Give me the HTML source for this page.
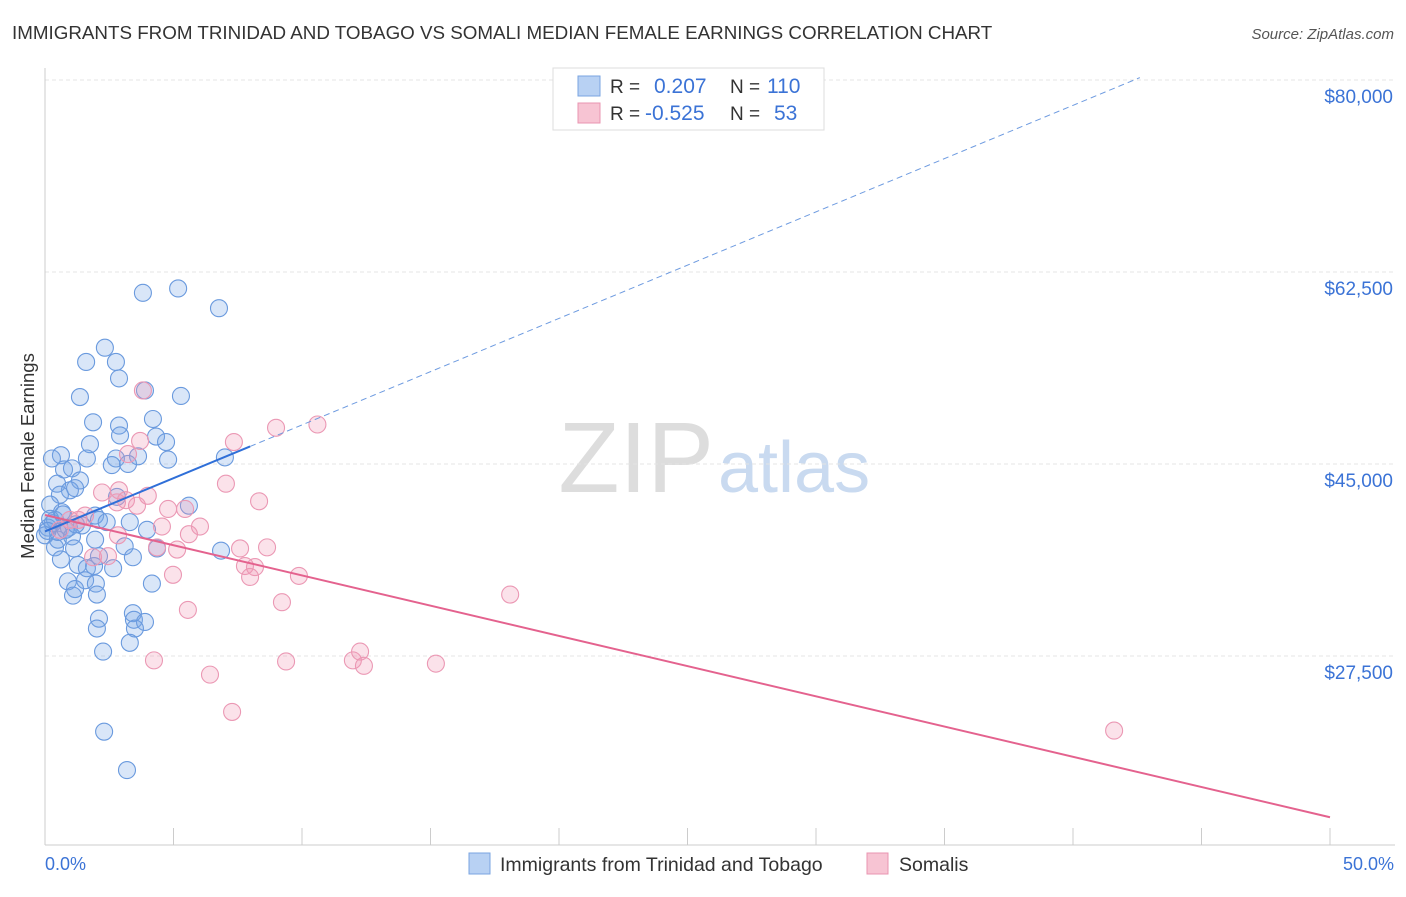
<!DOCTYPE html>
<html><head><meta charset="utf-8"><style>
body{margin:0;background:#fff;font-family:"Liberation Sans",sans-serif;}
svg text{font-family:"Liberation Sans",sans-serif;}
</style></head><body>
<svg id="chart" width="1406" height="892">
<text x="12" y="39" font-size="18.8" fill="#333">IMMIGRANTS FROM TRINIDAD AND TOBAGO VS SOMALI MEDIAN FEMALE EARNINGS CORRELATION CHART</text>
<text x="1394" y="39" font-size="15" fill="#555" font-style="italic" text-anchor="end">Source: ZipAtlas.com</text>
<text x="714" y="492" font-size="100" fill="#ddd" text-anchor="end" font-family="Liberation Serif">ZIP</text>
<text x="718" y="492" font-size="72" fill="#c9daf0">atlas</text>
<g id="grid"></g><g id="ticks"></g>
<line x1="45" y1="68" x2="45" y2="845" stroke="#ccc"/>
<line x1="45" y1="845" x2="1395" y2="845" stroke="#ccc"/>
<text x="34" y="456" font-size="18.5" fill="#333" text-anchor="middle" transform="rotate(-90 34 456)">Median Female Earnings</text>
<text x="45" y="870" font-size="18" fill="#3b73d6">0.0%</text>
<text x="1394" y="870" font-size="18" fill="#3b73d6" text-anchor="end">50.0%</text>
<g id="points"></g><g id="trends"></g>
<g>
<rect x="553" y="68" width="271" height="62" fill="#fff" stroke="#ddd"/>
<rect x="578" y="76" width="22" height="20" fill="#b8d1f3" stroke="#7aa4e0"/>
<rect x="578" y="103" width="22" height="20" fill="#f7c4d3" stroke="#ea94b0"/>
<text x="610" y="93" font-size="19" fill="#333">R =</text>
<text x="654" y="93" font-size="21" fill="#3b73d6">0.207</text>
<text x="730" y="93" font-size="19" fill="#333">N =</text>
<text x="767" y="93" font-size="21" fill="#3b73d6">110</text>
<text x="610" y="120" font-size="19" fill="#333">R =</text>
<text x="645" y="120" font-size="21" fill="#3b73d6">-0.525</text>
<text x="730" y="120" font-size="19" fill="#333">N =</text>
<text x="774" y="120" font-size="21" fill="#3b73d6">53</text>
</g>
<g>
<rect x="469" y="853" width="21" height="21" fill="#b8d1f3" stroke="#7aa4e0"/>
<text x="500" y="871" font-size="19.5" fill="#333">Immigrants from Trinidad and Tobago</text>
<rect x="867" y="853" width="21" height="21" fill="#f7c4d3" stroke="#ea94b0"/>
<text x="899" y="871" font-size="19.5" fill="#333">Somalis</text>
</g>
</svg>
<script>
const yTicks=[27500,45000,62500,80000];
const yTickLabels=["$27,500","$45,000","$62,500","$80,000"];
const xTicks=[0,5,10,15,20,25,30,35,40,45,50];
const blueX=[3.81,5.18,6.77,1.6,2.33,2.76,2.88,1.36,3.89,5.29,1.87,2.88,4.2,2.92,4.32,4.71,1.75,0.62,1.63,2.76,3.62,4.79,7.0,2.6,3.23,0.74,1.05,0.27,1.36,0.47,0.97,0.58,1.17,2.8,5.6,0.2,0.66,1.95,2.1,0.39,0.12,0.93,1.44,3.3,2.4,3.97,0,0.5,1.05,1.95,0.39,1.13,3.1,4.36,6.85,2.1,0.62,3.42,1.28,1.63,2.65,1.91,1.56,0.89,1.98,4.16,1.17,2.02,1.09,3.42,2.1,3.46,3.89,2.02,3.5,3.3,2.26,2.3,3.19,0.3,0.8,0.2,0.5,1.2,0.1,0.7];
const blueY=[60.6,61.0,59.2,54.3,55.6,54.3,52.8,51.1,51.7,51.2,48.8,48.5,49.1,47.6,47.5,47.0,46.8,45.8,45.5,45.5,45.7,45.4,45.6,44.9,45.0,44.5,44.6,45.5,43.5,43.2,42.6,42.2,42.8,42.0,41.2,41.3,40.6,40.3,39.9,39.9,39.2,39.2,39.4,39.7,39.7,39.0,38.5,38.1,38.4,38.1,37.4,37.3,37.5,37.3,37.1,36.6,36.3,36.5,35.8,35.5,35.5,35.7,34.4,34.3,34.1,34.1,33.6,33.1,33.0,31.4,30.9,30.8,30.6,30.0,30.0,28.7,27.9,20.6,17.1,39.6,39.0,40.0,38.8,39.5,38.9,40.4];
const pinkX=[3.81,8.99,10.6,7.35,3.7,3.23,7.04,2.88,2.22,4.0,8.33,2.8,3.15,4.79,5.45,3.58,1.56,0.97,4.55,6.03,5.6,2.84,4.36,5.14,7.59,8.64,1.87,2.45,7.78,8.17,4.98,7.98,9.88,18.1,9.22,5.56,4.24,9.38,11.98,12.26,12.41,15.21,6.42,7.28,41.6,0.58,1.3];
const pinkY=[51.7,48.3,48.6,47.0,47.1,45.9,43.2,42.6,42.4,42.1,41.6,41.5,41.7,40.9,40.9,41.2,40.3,39.9,39.3,39.3,38.6,38.5,37.4,37.2,37.3,37.4,36.5,36.6,35.7,35.6,34.9,34.7,34.8,33.1,32.4,31.7,27.1,27.0,27.1,27.9,26.6,26.8,25.8,22.4,20.7,39.0,39.9];
const blueTrend=[38.85,0.971];
const pinkTrend=[40.35,-0.551];
const NS="http://www.w3.org/2000/svg";
const X=p=>45+p*25.7;
const Y=k=>80+(80-k)*10.971;
function mk(t,a,parent){const e=document.createElementNS(NS,t);for(const k in a)e.setAttribute(k,a[k]);document.getElementById(parent).appendChild(e);return e;}
yTicks.forEach((v,i)=>{
 const l=mk('line',{x1:45,x2:1395,y1:Y(v/1000),y2:Y(v/1000),stroke:'#e4e4e4','stroke-dasharray':'4,3'},'grid');
 
 
 const t=mk('text',{x:1393,y:Y(v/1000)+23,'font-size':19,fill:'#3b73d6','text-anchor':'end'},'grid');
 t.textContent=yTickLabels[i];
 
 
});
xTicks.forEach(v=>{
 const l=mk('line',{x1:X(v),x2:X(v),y1:828,y2:845,stroke:'#ccc'},'ticks');
 
 
});
function dots(xs,ys,fill,stroke,name){xs.forEach((x,i)=>{
 const c=mk('circle',{cx:X(x),cy:Y(ys[i]),r:8.5,fill:fill,stroke:stroke,'stroke-width':1.1},'points');
 
 
});}
dots(blueX,blueY,'rgba(120,165,230,0.28)','#6a9ade','blue-point');
dots(pinkX,pinkY,'rgba(240,150,180,0.28)','#eb98b4','pink-point');
let l=mk('line',{x1:X(0),y1:Y(blueTrend[0]),x2:X(7.98),y2:Y(blueTrend[0]+blueTrend[1]*7.98),stroke:'#2f6fd8','stroke-width':2},'trends');


l=mk('line',{x1:X(7.98),y1:Y(blueTrend[0]+blueTrend[1]*7.98),x2:X(42.6),y2:Y(blueTrend[0]+blueTrend[1]*42.6),stroke:'#6e9be0','stroke-width':1,'stroke-dasharray':'6,4'},'trends');


l=mk('line',{x1:X(0),y1:Y(pinkTrend[0]),x2:X(50),y2:Y(pinkTrend[0]+pinkTrend[1]*50),stroke:'#e4628e','stroke-width':2},'trends');


</script>
</body></html>
